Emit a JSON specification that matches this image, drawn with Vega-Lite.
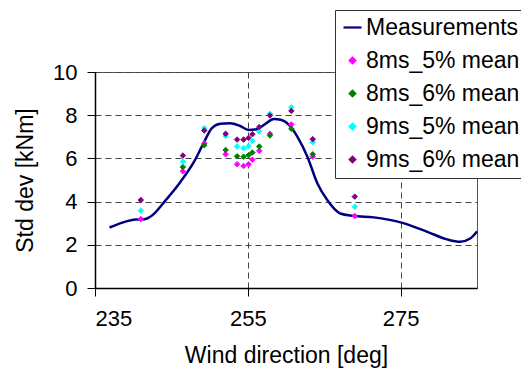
{
  "$schema": "https://vega.github.io/schema/vega-lite/v6.json",
  "width": 382,
  "height": 216,
  "autosize": {"type": "none"},
  "padding": {"left": 95, "top": 72, "right": 44, "bottom": 84},
  "background": "white",
  "config": {
    "font": "Liberation Sans",
    "view": {"stroke": "#555555", "strokeWidth": 1},
    "axis": {
      "labelFont": "Liberation Sans",
      "labelFontSize": 22,
      "labelColor": "#000000",
      "titleFont": "Liberation Sans",
      "titleFontSize": 23,
      "titleFontWeight": "normal",
      "titleColor": "#000000",
      "domainColor": "#000000",
      "domainWidth": 1.5,
      "tickColor": "#000000",
      "tickSize": 8,
      "gridColor": "#444444",
      "gridDash": [6, 4],
      "gridWidth": 1
    },
    "legend": {
      "orient": "none",
      "legendX": 240,
      "legendY": -62,
      "title": null,
      "labelFont": "Liberation Sans",
      "labelFontSize": 23,
      "labelColor": "#000000",
      "rowPadding": 9,
      "padding": 6,
      "strokeColor": "#333333",
      "fillColor": "#ffffff",
      "labelOffset": 2,
      "symbolStrokeWidth": 2.2,
      "labelLimit": 400
    }
  },
  "data": {
    "values": [
      {"series": "Measurements", "dir": 236.9, "std": 2.80},
      {"series": "Measurements", "dir": 238.7, "std": 3.04},
      {"series": "Measurements", "dir": 240.3, "std": 3.17},
      {"series": "Measurements", "dir": 241.4, "std": 3.18},
      {"series": "Measurements", "dir": 242.5, "std": 3.37},
      {"series": "Measurements", "dir": 244.1, "std": 4.0},
      {"series": "Measurements", "dir": 246.2, "std": 4.92},
      {"series": "Measurements", "dir": 248.1, "std": 5.93},
      {"series": "Measurements", "dir": 249.2, "std": 6.7},
      {"series": "Measurements", "dir": 250.3, "std": 7.4},
      {"series": "Measurements", "dir": 251.4, "std": 7.6},
      {"series": "Measurements", "dir": 252.7, "std": 7.63},
      {"series": "Measurements", "dir": 254.0, "std": 7.5},
      {"series": "Measurements", "dir": 255.1, "std": 7.32},
      {"series": "Measurements", "dir": 256.2, "std": 7.35},
      {"series": "Measurements", "dir": 257.3, "std": 7.6},
      {"series": "Measurements", "dir": 258.4, "std": 7.82},
      {"series": "Measurements", "dir": 259.3, "std": 7.79},
      {"series": "Measurements", "dir": 260.4, "std": 7.55},
      {"series": "Measurements", "dir": 261.5, "std": 7.0},
      {"series": "Measurements", "dir": 262.8, "std": 6.08},
      {"series": "Measurements", "dir": 264.1, "std": 4.85},
      {"series": "Measurements", "dir": 265.4, "std": 4.07},
      {"series": "Measurements", "dir": 267.1, "std": 3.45},
      {"series": "Measurements", "dir": 268.8, "std": 3.34},
      {"series": "Measurements", "dir": 271.5, "std": 3.27},
      {"series": "Measurements", "dir": 275.0, "std": 3.04},
      {"series": "Measurements", "dir": 278.5, "std": 2.6},
      {"series": "Measurements", "dir": 281.1, "std": 2.25},
      {"series": "Measurements", "dir": 282.8, "std": 2.14},
      {"series": "Measurements", "dir": 284.1, "std": 2.29},
      {"series": "Measurements", "dir": 285.0, "std": 2.62},

      {"series": "8ms_5% mean", "dir": 241.0, "std": 3.19},
      {"series": "8ms_5% mean", "dir": 246.5, "std": 5.4},
      {"series": "8ms_5% mean", "dir": 249.3, "std": 6.7},
      {"series": "8ms_5% mean", "dir": 252.1, "std": 6.19},
      {"series": "8ms_5% mean", "dir": 253.6, "std": 5.73},
      {"series": "8ms_5% mean", "dir": 254.45, "std": 5.65},
      {"series": "8ms_5% mean", "dir": 255.1, "std": 5.73},
      {"series": "8ms_5% mean", "dir": 255.6, "std": 5.94},
      {"series": "8ms_5% mean", "dir": 256.5, "std": 6.35},
      {"series": "8ms_5% mean", "dir": 257.9, "std": 7.14},
      {"series": "8ms_5% mean", "dir": 260.7, "std": 7.57},
      {"series": "8ms_5% mean", "dir": 263.5, "std": 6.08},
      {"series": "8ms_5% mean", "dir": 269.0, "std": 3.33},

      {"series": "8ms_6% mean", "dir": 246.5, "std": 5.6},
      {"series": "8ms_6% mean", "dir": 249.3, "std": 6.61},
      {"series": "8ms_6% mean", "dir": 252.1, "std": 6.39},
      {"series": "8ms_6% mean", "dir": 253.6, "std": 6.1},
      {"series": "8ms_6% mean", "dir": 254.45, "std": 6.08},
      {"series": "8ms_6% mean", "dir": 255.1, "std": 6.15},
      {"series": "8ms_6% mean", "dir": 255.6, "std": 6.27},
      {"series": "8ms_6% mean", "dir": 256.5, "std": 6.55},
      {"series": "8ms_6% mean", "dir": 257.9, "std": 7.06},
      {"series": "8ms_6% mean", "dir": 260.7, "std": 7.37},
      {"series": "8ms_6% mean", "dir": 263.5, "std": 6.19},

      {"series": "9ms_5% mean", "dir": 241.0, "std": 3.58},
      {"series": "9ms_5% mean", "dir": 246.5, "std": 5.85},
      {"series": "9ms_5% mean", "dir": 249.3, "std": 7.4},
      {"series": "9ms_5% mean", "dir": 252.1, "std": 7.04},
      {"series": "9ms_5% mean", "dir": 253.6, "std": 6.55},
      {"series": "9ms_5% mean", "dir": 254.45, "std": 6.47},
      {"series": "9ms_5% mean", "dir": 255.1, "std": 6.57},
      {"series": "9ms_5% mean", "dir": 255.6, "std": 6.8},
      {"series": "9ms_5% mean", "dir": 256.5, "std": 7.24},
      {"series": "9ms_5% mean", "dir": 257.9, "std": 8.06},
      {"series": "9ms_5% mean", "dir": 260.7, "std": 8.37},
      {"series": "9ms_5% mean", "dir": 263.5, "std": 6.75},
      {"series": "9ms_5% mean", "dir": 269.0, "std": 3.76},

      {"series": "9ms_6% mean", "dir": 241.0, "std": 4.07},
      {"series": "9ms_6% mean", "dir": 246.5, "std": 6.13},
      {"series": "9ms_6% mean", "dir": 249.3, "std": 7.29},
      {"series": "9ms_6% mean", "dir": 252.1, "std": 7.14},
      {"series": "9ms_6% mean", "dir": 253.6, "std": 6.87},
      {"series": "9ms_6% mean", "dir": 254.45, "std": 6.87},
      {"series": "9ms_6% mean", "dir": 255.1, "std": 6.95},
      {"series": "9ms_6% mean", "dir": 255.6, "std": 7.12},
      {"series": "9ms_6% mean", "dir": 256.5, "std": 7.45},
      {"series": "9ms_6% mean", "dir": 257.9, "std": 7.99},
      {"series": "9ms_6% mean", "dir": 260.7, "std": 8.2},
      {"series": "9ms_6% mean", "dir": 263.5, "std": 6.89},
      {"series": "9ms_6% mean", "dir": 269.0, "std": 4.23}
    ]
  },
  "encoding": {
    "x": {
      "field": "dir",
      "type": "quantitative",
      "scale": {"domain": [235, 285], "nice": false, "zero": false},
      "axis": {"values": [235, 255, 275], "title": "Wind direction [deg]", "labelPadding": 12, "titlePadding": 15, "grid": true}
    },
    "y": {
      "field": "std",
      "type": "quantitative",
      "scale": {"domain": [0, 10], "nice": false},
      "axis": {"values": [0, 2, 4, 6, 8, 10], "title": "Std dev [kNm]", "labelPadding": 10, "titlePadding": 15, "grid": true}
    }
  },
  "layer": [
    {
      "transform": [{"filter": "datum.series === 'Measurements'"}],
      "mark": {"type": "line", "interpolate": "monotone", "strokeWidth": 2.5},
      "encoding": {
        "stroke": {
          "field": "series",
          "type": "nominal",
          "scale": {
            "domain": ["Measurements", "8ms_5% mean", "8ms_6% mean", "9ms_5% mean", "9ms_6% mean"],
            "range": ["#000080", "#FF00FF", "#008000", "#00FFFF", "#800080"]
          }
        }
      }
    },
    {
      "transform": [{"filter": "datum.series !== 'Measurements'"}],
      "mark": {"type": "point", "filled": true, "strokeWidth": 1, "opacity": 1},
      "encoding": {
        "fill": {
          "field": "series",
          "type": "nominal",
          "scale": {
            "domain": ["Measurements", "8ms_5% mean", "8ms_6% mean", "9ms_5% mean", "9ms_6% mean"],
            "range": ["#000080", "#FF00FF", "#008000", "#00FFFF", "#800080"]
          }
        },
        "stroke": {"field": "series", "type": "nominal"},
        "shape": {
          "field": "series",
          "type": "nominal",
          "scale": {
            "domain": ["Measurements", "8ms_5% mean", "8ms_6% mean", "9ms_5% mean", "9ms_6% mean"],
            "range": ["stroke", "diamond", "diamond", "diamond", "diamond"]
          }
        },
        "size": {
          "field": "series",
          "type": "nominal",
          "scale": {
            "type": "ordinal",
            "domain": ["Measurements", "8ms_5% mean", "8ms_6% mean", "9ms_5% mean", "9ms_6% mean"],
            "range": [324, 30, 30, 30, 30]
          }
        }
      }
    }
  ]
}
